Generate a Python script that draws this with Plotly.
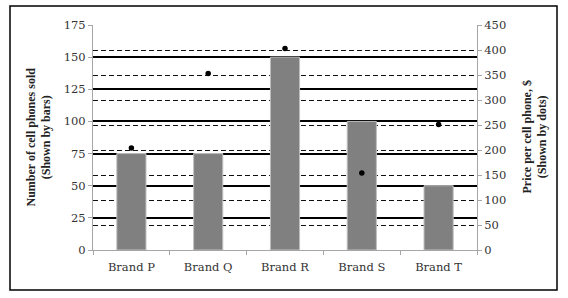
import plotly.graph_objects as go

brands = ["Brand P", "Brand Q", "Brand R", "Brand S", "Brand T"]
phones_sold = [75, 75, 150, 100, 50]
price_per_phone = [204, 353, 403, 154, 251]
left_ticks = [0, 25, 50, 75, 100, 125, 150, 175]
right_ticks = [0, 50, 100, 150, 200, 250, 300, 350, 400, 450]

W, H = 568, 298
L, R, T, B = 93, 91, 25, 48
pw, ph = W - L - R, H - T - B

tickfont = dict(family="DejaVu Serif", size=11.5, color="#333333")
titlefont = dict(family="Liberation Serif", size=12, color="#222222")

fig = go.Figure()
fig.add_trace(go.Bar(
    x=brands, y=phones_sold, width=0.38,
    marker=dict(color="#808080", line=dict(color="#c0c0c0", width=1)),
    yaxis="y", showlegend=False,
))
fig.add_trace(go.Scatter(
    x=brands, y=price_per_phone, mode="markers",
    marker=dict(color="black", size=5.5),
    yaxis="y2", showlegend=False,
))

fig.update_layout(
    width=W, height=H,
    margin=dict(l=L, r=R, t=T, b=B),
    paper_bgcolor="white", plot_bgcolor="white",
    xaxis=dict(
        showline=True, linecolor="#a6a6a6", linewidth=1,
        ticks="outside", tickson="boundaries", ticklen=4, tickcolor="#a6a6a6",
        tickfont=tickfont, showgrid=False, ticklabelstandoff=6,
    ),
    yaxis=dict(
        range=[0, 175], tickvals=left_ticks, ticktext=[str(v) for v in left_ticks],
        showline=True, linecolor="#a6a6a6", linewidth=1,
        ticks="outside", ticklen=4, tickcolor="#a6a6a6",
        tickfont=tickfont, showgrid=True, gridcolor="black", gridwidth=2,
        zeroline=False,
    ),
    yaxis2=dict(
        range=[0, 450], tickvals=right_ticks, ticktext=[str(v) for v in right_ticks],
        overlaying="y", side="right",
        showline=True, linecolor="#a6a6a6", linewidth=1,
        ticks="outside", ticklen=4, tickcolor="#a6a6a6",
        tickfont=tickfont, showgrid=True, gridcolor="#111111", gridwidth=1,
        griddash="5px,3px", zeroline=False,
    ),
    annotations=[
        dict(text="<b>Number of cell phones sold<br>(Shown by bars)</b>",
             xref="paper", yref="paper", x=(38 - L) / pw, y=0.5,
             xanchor="center", yanchor="middle", textangle=-90,
             showarrow=False, font=titlefont),
        dict(text="<b>Price per cell phone, $<br>(Shown by dots)</b>",
             xref="paper", yref="paper", x=(534 - L) / pw, y=0.5,
             xanchor="center", yanchor="middle", textangle=-90,
             showarrow=False, font=titlefont),
    ],
    shapes=[
        dict(type="rect", xref="paper", yref="paper",
             x0=(10 - L) / pw, x1=(557 - L) / pw,
             y0=(H - B - 290) / ph, y1=(H - B - 6) / ph,
             line=dict(color="black", width=1.5), layer="below"),
    ],
)

fig.write_html("out.html")
